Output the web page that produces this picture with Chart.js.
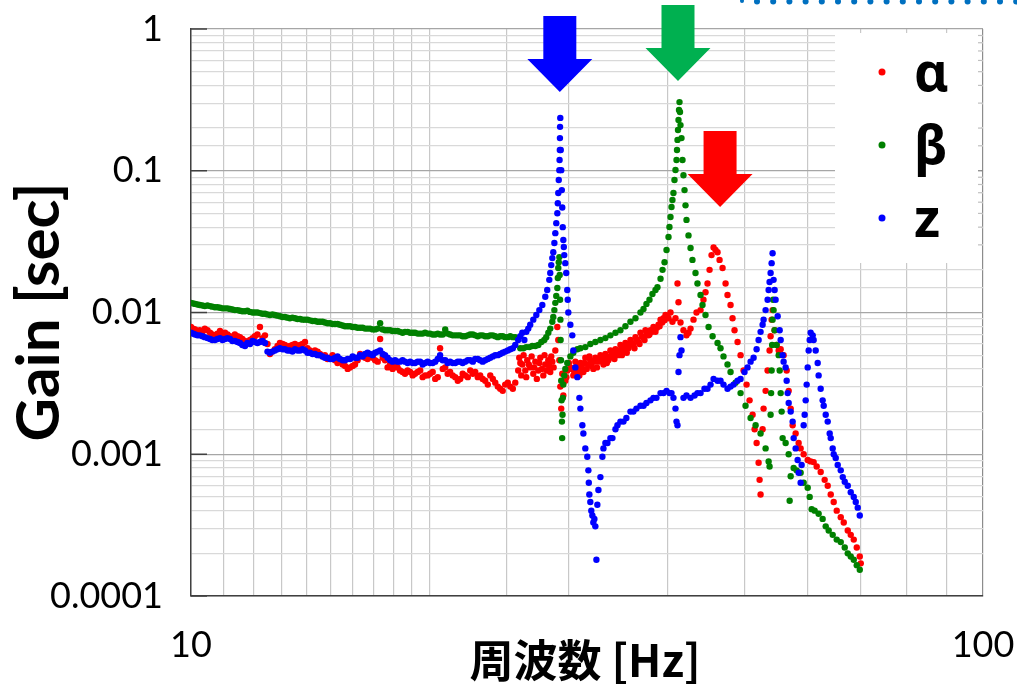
<!DOCTYPE html>
<html>
<head>
<meta charset="utf-8">
<script src="https://cdn.jsdelivr.net/npm/chart.js@4.4.1/dist/chart.umd.min.js"></script>
<style>
  html, body { margin: 0; padding: 0; background: #fff; }
  #wrap { width: 1017px; height: 684px; }
</style>
</head>
<body>
<div id="wrap"><canvas id="gainChart" width="1017" height="684"></canvas></div>
<script>
// [frequency Hz, gain sec]
const alphaPoints = [
  [10.00,0.0079],[10.12,0.0076],[10.26,0.0075],[10.41,0.0077],[10.57,0.0072],[10.72,0.0069],[10.88,0.0074],[11.04,0.0072],[11.20,0.0068],[11.36,0.0070],
  [11.53,0.0067],[11.70,0.0063],[11.87,0.0064],[12.04,0.0068],[12.22,0.0079],[12.40,0.0069],[12.58,0.0051],[12.76,0.0055],[12.95,0.0061],[13.14,0.0059],
  [13.33,0.0058],[13.53,0.0060],[13.73,0.0059],[13.93,0.0062],[14.13,0.0054],[14.34,0.0054],[14.55,0.0051],[14.76,0.0050],[14.98,0.0048],[15.20,0.0046],
  [15.42,0.0045],[15.65,0.0042],[15.88,0.0041],[16.11,0.0043],[16.35,0.0051],[16.59,0.0048],[16.83,0.0050],[17.08,0.0046],[17.33,0.0065],[17.58,0.0046],
  [17.84,0.0043],[18.10,0.0042],[18.36,0.0039],[18.63,0.0037],[18.91,0.0038],[19.18,0.0037],[19.47,0.0039],[19.75,0.0036],[20.04,0.0037],[20.34,0.0034],
  [20.63,0.0056],[20.94,0.0041],[21.24,0.0038],[21.56,0.0035],[21.87,0.0034],[22.19,0.0036],[22.52,0.0039],[22.85,0.0038],[23.18,0.0036],[23.52,0.0033],
  [23.87,0.0036],[24.22,0.0032],[24.57,0.0029],[24.93,0.0031],[25.30,0.0030],[25.67,0.0032],
  [10.06,0.0077],[10.19,0.0074],[10.34,0.0073],[10.49,0.0075],[10.64,0.0070],[10.80,0.0071],[10.96,0.0069],[11.12,0.0070],[11.28,0.0066],[11.45,0.0068],
  [11.61,0.0065],[11.78,0.0061],[11.96,0.0066],[12.13,0.0070],[12.31,0.0066],[12.49,0.0060],[12.67,0.0053],[12.86,0.0058],[13.05,0.0060],[13.24,0.0057],
  [13.43,0.0059],[13.63,0.0057],[13.83,0.0060],[14.03,0.0056],[14.24,0.0052],[14.45,0.0053],[14.66,0.0049],[14.87,0.0047],[15.09,0.0050],[15.31,0.0044],
  [15.54,0.0043],[15.77,0.0040],[16.00,0.0042],[16.23,0.0046],[16.47,0.0049],[16.71,0.0047],[16.96,0.0048],[17.21,0.0045],[17.46,0.0048],[17.71,0.0041],
  [17.97,0.0040],[18.23,0.0041],[18.50,0.0038],[18.77,0.0039],[19.05,0.0036],[19.33,0.0038],[19.61,0.0035],[19.90,0.0036],[20.19,0.0038],[20.49,0.0035],
  [20.79,0.0040],[21.09,0.0037],[21.40,0.0036],[21.72,0.0033],[22.03,0.0037],[22.36,0.0035],[22.69,0.0037],[23.02,0.0035],[23.35,0.0034],[23.70,0.0031],
  [24.05,0.0034],[24.40,0.0030],[24.75,0.0028],[25.12,0.0032],[25.49,0.0029],
  [25.89,0.0039],[26.05,0.0044],[26.20,0.0043],[26.43,0.0039],[26.58,0.0046],[26.81,0.0041],[27.05,0.0037],[27.21,0.0045],[27.45,0.0039],[27.61,0.0048],
  [27.85,0.0036],[28.01,0.0043],[28.26,0.0046],[28.42,0.0038],[28.59,0.0045],[28.84,0.0054],[29.01,0.0079],[29.09,0.0064],[29.18,0.0046],[29.26,0.0030],
  [25.97,0.0048],[26.12,0.0036],[26.30,0.0050],[26.50,0.0035],[26.70,0.0043],[26.92,0.0049],[27.12,0.0041],[27.33,0.0034],[27.53,0.0044],[27.74,0.0040],
  [27.95,0.0050],[28.14,0.0039],[28.33,0.0042],[28.50,0.0049],[28.70,0.0041],
  [29.34,0.0021],[29.43,0.0037],[29.52,0.0026],[29.69,0.0033],[29.86,0.0039],[30.13,0.0041],[30.39,0.0036],[30.57,0.0045],[30.84,0.0039],[31.02,0.0044],
  [31.29,0.0038],[31.47,0.0048],[31.75,0.0043],[31.93,0.0046],[32.21,0.0040],[32.40,0.0048],[32.69,0.0045],[32.88,0.0050],[33.17,0.0043],[33.36,0.0051],
  [33.65,0.0046],[33.85,0.0054],[34.15,0.0048],[34.35,0.0055],[34.65,0.0050],[34.85,0.0059],[35.16,0.0054],[35.36,0.0061],[35.67,0.0056],[35.88,0.0064],
  [36.19,0.0059],[36.41,0.0067],[36.73,0.0062],[36.94,0.0072],[37.27,0.0066],[37.48,0.0075],[37.81,0.0069],[38.03,0.0075],[38.36,0.0079],[38.59,0.0073],
  [29.78,0.0035],[30.00,0.0044],[30.25,0.0040],[30.48,0.0038],[30.70,0.0042],[30.93,0.0036],[31.15,0.0041],[31.38,0.0044],[31.60,0.0040],[31.84,0.0049],
  [32.05,0.0042],[32.30,0.0045],[32.55,0.0041],[32.78,0.0047],[33.02,0.0046],[33.26,0.0048],[33.50,0.0044],[33.75,0.0049],[34.00,0.0051],[34.25,0.0047],
  [34.50,0.0052],[34.75,0.0054],[35.00,0.0050],[35.26,0.0057],[35.50,0.0052],[35.77,0.0059],[36.05,0.0061],[36.30,0.0056],[36.58,0.0064],[36.84,0.0060],
  [37.10,0.0068],[37.38,0.0064],[37.65,0.0071],[37.92,0.0070],[38.20,0.0073],[38.48,0.0076],[38.75,0.0078],[39.05,0.0080],[39.35,0.0085],[39.62,0.0088],
  [39.90,0.0094],
  [38.93,0.0082],[39.16,0.0089],[39.50,0.0091],[39.73,0.0096],[40.08,0.0091],[40.31,0.0100],[40.54,0.0086],[40.90,0.0091],[41.14,0.0160],[41.26,0.0118],
  [41.50,0.0085],[41.86,0.0075],[42.23,0.0069],[42.48,0.0072],[42.73,0.0077],[43.10,0.0089],[43.48,0.0100],[43.99,0.0104],[44.37,0.0123],[44.63,0.0139],
  [44.89,0.0160],[45.16,0.0200],[45.42,0.0254],[45.69,0.0288],[45.95,0.0276],[46.22,0.0266],[46.49,0.0235],[46.90,0.0206],[47.31,0.0160],[47.58,0.0133],
  [48.00,0.0113],[48.28,0.0091],[48.56,0.0075],[48.99,0.0062],[49.42,0.0050],[49.85,0.0039],[50.29,0.0031],[50.73,0.0024],[51.18,0.0019],[51.48,0.0015],
  [51.78,0.0012],[52.08,0.00087],[52.23,0.00066],[52.38,0.00052],[52.69,0.0015],[52.84,0.0021],[53.15,0.0028],[53.46,0.0039],[53.77,0.0054],[53.93,0.0068],
  [54.09,0.0089],[54.24,0.0104],[54.56,0.0075],[54.88,0.0059],[55.21,0.0054],[55.53,0.0055],[56.01,0.0050],[56.51,0.0039],[56.84,0.0028],[57.17,0.0021],
  [57.50,0.0016],[58.00,0.0014],[58.51,0.0012],[58.85,0.0011],[59.37,0.0010],[60.07,0.00091],[60.59,0.00089],[61.12,0.00088],[61.66,0.00082],[62.38,0.00075],
  [63.11,0.00066],[63.67,0.00060],[64.23,0.00052],[64.79,0.00046],[65.36,0.00040],[66.13,0.00036],[66.71,0.00033],[67.49,0.00029],[68.08,0.00027],[68.68,0.00025],
  [69.28,0.00022],[69.89,0.00019],[70.09,0.00017]
];

const betaPoints = [
  [10.00,0.0117],[10.12,0.0115],[10.26,0.0113],[10.41,0.0111],[10.57,0.0111],[10.72,0.0109],[10.88,0.0108],[11.04,0.0107],[11.20,0.0106],[11.36,0.0104],
  [11.53,0.0103],[11.70,0.0102],[11.87,0.0101],[12.04,0.0100],[12.22,0.0099],[12.40,0.0098],[12.58,0.0096],[12.76,0.0096],[12.95,0.0094],[13.14,0.0093],
  [13.33,0.0091],[13.53,0.0091],[13.73,0.0090],[13.93,0.0089],[14.13,0.0088],[14.34,0.0087],[14.55,0.0086],[14.76,0.0085],[14.98,0.0084],[15.20,0.0083],
  [15.42,0.0082],[15.65,0.0080],[15.88,0.0080],[16.11,0.0079],[16.35,0.0078],[16.59,0.0077],[16.83,0.0077],[17.08,0.0076],[17.33,0.0084],[17.58,0.0075],
  [17.84,0.0075],[18.10,0.0074],[18.36,0.0073],[18.63,0.0073],[18.91,0.0072],[19.18,0.0072],[19.47,0.0071],[19.75,0.0072],[20.04,0.0071],[20.34,0.0070],
  [20.63,0.0070],[20.94,0.0076],[21.24,0.0070],[21.56,0.0069],[21.87,0.0069],[22.19,0.0068],[22.52,0.0070],[22.85,0.0069],[23.18,0.0069],[23.52,0.0068],
  [23.87,0.0069],[24.22,0.0068],[24.57,0.0068],[24.93,0.0067],[25.30,0.0068],[25.67,0.0067],
  [10.06,0.0116],[10.19,0.0114],[10.34,0.0112],[10.49,0.0112],[10.64,0.0110],[10.80,0.0109],[10.96,0.0107],[11.12,0.0107],[11.28,0.0105],[11.45,0.0104],
  [11.61,0.0102],[11.78,0.0103],[11.96,0.0100],[12.13,0.0100],[12.31,0.0098],[12.49,0.0097],[12.67,0.0097],[12.86,0.0095],[13.05,0.0093],[13.24,0.0092],
  [13.43,0.0092],[13.63,0.0090],[13.83,0.0089],[14.03,0.0089],[14.24,0.0087],[14.45,0.0086],[14.66,0.0086],[14.87,0.0084],[15.09,0.0083],[15.31,0.0083],
  [15.54,0.0081],[15.77,0.0080],[16.00,0.0079],[16.23,0.0078],[16.47,0.0078],[16.71,0.0077],[16.96,0.0076],[17.21,0.0077],[17.46,0.0076],[17.71,0.0075],
  [17.97,0.0074],[18.23,0.0074],[18.50,0.0072],[18.77,0.0073],[19.05,0.0072],[19.33,0.0071],[19.61,0.0071],[19.90,0.0071],[20.19,0.0070],[20.49,0.0071],
  [20.79,0.0070],[21.09,0.0071],[21.40,0.0069],[21.72,0.0069],[22.03,0.0068],[22.36,0.0069],[22.69,0.0070],[23.02,0.0068],[23.35,0.0069],[23.70,0.0068],
  [24.05,0.0069],[24.40,0.0067],[24.75,0.0068],[25.12,0.0067],[25.49,0.0067],
  [26.05,0.0056],[26.28,0.0056],[26.51,0.0057],[26.74,0.0057],[26.97,0.0058],[27.21,0.0058],[27.45,0.0059],[27.69,0.0062],[27.93,0.0064],[28.09,0.0067],
  [28.26,0.0072],[28.42,0.0077],[28.59,0.0086],[28.67,0.0093],[28.76,0.0104],[28.84,0.0117],[28.92,0.0131],[29.01,0.0149],[29.05,0.0175],[29.09,0.0206],
  [29.13,0.0226],[29.18,0.0246],[29.21,0.0184],[29.24,0.0123],[29.27,0.0089],[29.29,0.0064],[29.32,0.0046],[29.34,0.0033],[29.37,0.0024],[29.40,0.0017],
  [29.42,0.0013],[29.45,0.0019],[29.48,0.0025],[29.52,0.0031],[29.60,0.0036],[29.69,0.0040],[29.86,0.0044],[30.13,0.0049],[30.39,0.0052],[30.75,0.0055],
  [31.02,0.0056],[31.47,0.0057],[31.93,0.0060],[32.40,0.0062],[32.88,0.0064],[33.36,0.0066],[33.85,0.0069],[34.35,0.0072],[34.85,0.0075],[35.36,0.0080],
  [35.88,0.0086],[36.41,0.0091],[36.94,0.0100],[37.27,0.0106],[37.59,0.0115],[37.92,0.0123],[38.25,0.0135],[38.59,0.0144],[38.81,0.0151],[39.16,0.0173],
  [39.39,0.0200],[39.62,0.0226],[39.85,0.0276],[40.08,0.0341],[40.19,0.0401],[40.31,0.0472],[40.43,0.0555],[40.54,0.0622],[40.66,0.0696],[40.78,0.0860],
  [40.90,0.1012],[41.02,0.1191],[41.08,0.1401],[41.14,0.165],[41.20,0.194],[41.26,0.228],[41.32,0.268],[41.38,0.305],[41.44,0.26],[41.50,0.21],
  [41.62,0.17],[41.74,0.119],[41.86,0.093],[41.99,0.073],[42.11,0.057],[42.23,0.045],[42.48,0.035],[42.73,0.0285],[42.97,0.0235],[43.35,0.0190],
  [43.60,0.0160],[43.99,0.0133],[44.24,0.0113],[44.63,0.0096],[45.03,0.0079],[45.56,0.0068],[46.22,0.0061],[46.62,0.0056],[47.03,0.0049],[47.58,0.0043],
  [48.00,0.0038],[48.70,0.0032],[49.42,0.0027],[50.14,0.0022],[50.88,0.0018],[51.63,0.0016],[52.38,0.0014],[53.15,0.0011],[53.62,0.00089],[53.77,0.00082],
  [53.93,0.0019],[54.01,0.0027],[54.09,0.0039],[54.17,0.0059],[54.24,0.0089],[54.32,0.0123],[54.40,0.0104],[54.56,0.0075],[54.88,0.0059],[55.21,0.0050],
  [55.37,0.0039],[55.53,0.0027],[55.69,0.0020],[55.85,0.0013],[56.34,0.0012],[56.84,0.0010],[57.00,0.00047],[57.17,0.00070],[57.67,0.00080],[58.17,0.00077],
  [58.85,0.00074],[59.37,0.00063],[60.07,0.00058],[60.42,0.00050],[60.77,0.00041],[61.30,0.00040],[62.01,0.00038],[62.74,0.00035],[63.30,0.00031],[63.85,0.00029],
  [64.60,0.00027],[65.36,0.00025],[66.13,0.00024],[66.90,0.00022],[67.49,0.00020],[68.08,0.00019],[68.68,0.00018],[69.28,0.000165],[69.89,0.000153]
];

const zPoints = [
  [10.00,0.0072],[10.12,0.0070],[10.26,0.0069],[10.41,0.0067],[10.57,0.0065],[10.72,0.0064],[10.88,0.0066],[11.04,0.0065],[11.20,0.0065],[11.36,0.0063],
  [11.53,0.0061],[11.70,0.0058],[11.87,0.0060],[12.04,0.0062],[12.22,0.0062],[12.40,0.0061],[12.58,0.0052],[12.76,0.0054],[12.95,0.0056],[13.14,0.0055],
  [13.33,0.0054],[13.53,0.0055],[13.73,0.0054],[13.93,0.0054],[14.13,0.0052],[14.34,0.0051],[14.55,0.0050],[14.76,0.0048],[14.98,0.0047],[15.20,0.0048],
  [15.42,0.0047],[15.65,0.0046],[15.88,0.0047],[16.11,0.0048],[16.35,0.0050],[16.59,0.0051],[16.83,0.0051],[17.08,0.0052],[17.33,0.0054],[17.58,0.0050],
  [17.84,0.0046],[18.10,0.0046],[18.36,0.0045],[18.63,0.0045],[18.91,0.0045],[19.18,0.0044],[19.47,0.0045],[19.75,0.0044],[20.04,0.0044],[20.34,0.0045],
  [20.63,0.0050],[20.94,0.0046],[21.24,0.0045],[21.56,0.0044],[21.87,0.0045],[22.19,0.0045],[22.52,0.0046],[22.85,0.0047],[23.18,0.0046],[23.52,0.0046],
  [23.87,0.0048],[24.22,0.0050],[24.57,0.0051],[24.93,0.0053],[25.30,0.0055],[25.67,0.0059],
  [10.06,0.0071],[10.19,0.0069],[10.34,0.0068],[10.49,0.0066],[10.64,0.0064],[10.80,0.0065],[10.96,0.0064],[11.12,0.0066],[11.28,0.0063],[11.45,0.0062],
  [11.61,0.0059],[11.78,0.0061],[11.96,0.0063],[12.13,0.0061],[12.31,0.0063],[12.49,0.0053],[12.67,0.0053],[12.86,0.0055],[13.05,0.0055],[13.24,0.0054],
  [13.43,0.0053],[13.63,0.0054],[13.83,0.0055],[14.03,0.0052],[14.24,0.0051],[14.45,0.0050],[14.66,0.0049],[14.87,0.0048],[15.09,0.0047],[15.31,0.0049],
  [15.54,0.0046],[15.77,0.0047],[16.00,0.0049],[16.23,0.0048],[16.47,0.0049],[16.71,0.0052],[16.96,0.0050],[17.21,0.0053],[17.46,0.0051],[17.71,0.0048],
  [17.97,0.0045],[18.23,0.0045],[18.50,0.0046],[18.77,0.0044],[19.05,0.0044],[19.33,0.0045],[19.61,0.0043],[19.90,0.0045],[20.19,0.0044],[20.49,0.0047],
  [20.79,0.0046],[21.09,0.0044],[21.40,0.0044],[21.72,0.0045],[22.03,0.0044],[22.36,0.0046],[22.69,0.0045],[23.02,0.0047],[23.35,0.0045],[23.70,0.0047],
  [24.05,0.0049],[24.40,0.0050],[24.75,0.0052],[25.12,0.0054],[25.49,0.0056],
  [25.89,0.0064],[26.05,0.0068],[26.20,0.0072],[26.36,0.0064],[26.51,0.0073],[26.66,0.0077],[26.81,0.0082],[27.05,0.0089],[27.29,0.0096],[27.53,0.0104],
  [27.77,0.0113],[28.01,0.0129],[28.17,0.0144],[28.34,0.0170],[28.42,0.0190],[28.50,0.0216],[28.59,0.0242],[28.67,0.0266],[28.76,0.0309],[28.84,0.0363],
  [28.92,0.0427],[29.01,0.0502],[29.05,0.0590],[29.09,0.0696],[29.13,0.086],[29.18,0.101],[29.20,0.119],[29.22,0.140],[29.23,0.170],[29.24,0.204],
  [29.26,0.236],[29.30,0.14],[29.34,0.101],[29.39,0.073],[29.43,0.055],[29.47,0.040],[29.52,0.0325],[29.56,0.029],[29.60,0.0254],[29.69,0.0223],
  [29.77,0.0190],[29.86,0.0144],[29.90,0.0123],[29.95,0.0100],[30.13,0.0082],[30.30,0.0069],[30.39,0.0054],[30.57,0.0041],[30.75,0.0035],[30.93,0.0025],
  [31.02,0.0021],[31.20,0.0016],[31.29,0.0014],[31.47,0.0011],[31.65,0.00096],[31.75,0.00077],[31.79,0.00063],[31.84,0.00052],[31.93,0.00046],[32.02,0.00040],
  [32.12,0.00037],[32.21,0.00033],[32.31,0.00035],[32.40,0.00031],[32.50,0.00018],[32.59,0.00044],[32.69,0.00056],[32.88,0.00069],[33.07,0.00096],[33.17,0.0011],
  [33.36,0.0012],[33.56,0.0012],[33.85,0.0013],[34.05,0.0013],[34.35,0.0015],[34.55,0.0016],[34.85,0.0017],[35.16,0.0017],[35.46,0.0018],[35.88,0.0020],
  [36.19,0.0020],[36.51,0.0021],[36.94,0.0022],[37.27,0.0022],[37.59,0.0023],[38.03,0.0024],[38.36,0.0025],[38.70,0.0025],[39.16,0.0027],[39.50,0.0027],
  [39.85,0.0028],[40.19,0.0027],[40.43,0.0027],[40.66,0.0025],[40.90,0.0021],[41.02,0.0017],[41.14,0.0016],[41.26,0.0038],[41.38,0.0050],[41.50,0.0067],
  [41.62,0.0054],[41.86,0.0025],[42.23,0.0026],[42.73,0.0025],[43.23,0.0026],[43.60,0.0027],[43.99,0.0027],[44.50,0.0029],[44.89,0.0029],[45.29,0.0031],
  [45.69,0.0034],[46.22,0.0033],[46.62,0.0033],[47.03,0.0031],[47.58,0.0029],[48.00,0.0030],[48.42,0.0031],[48.99,0.0033],[49.42,0.0034],[49.99,0.0038],
  [50.43,0.0041],[50.88,0.0045],[51.33,0.0048],[51.78,0.0055],[52.08,0.0064],[52.38,0.0073],[52.69,0.0082],[52.84,0.0089],[53.15,0.0104],[53.46,0.0123],
  [53.62,0.0144],[53.77,0.0164],[53.93,0.0190],[54.09,0.0223],[54.24,0.0262],[54.40,0.0170],[54.56,0.0144],[54.72,0.0123],[55.05,0.0094],[55.37,0.0075],
  [55.53,0.0064],[55.85,0.0050],[56.01,0.0045],[56.34,0.0041],[56.51,0.0033],[56.67,0.0027],[56.84,0.0023],[57.17,0.0020],[57.50,0.0017],[57.67,0.0013],
  [58.00,0.0011],[58.34,0.00091],[58.51,0.00074],[58.85,0.00063],[59.02,0.00084],[59.37,0.0016],[59.54,0.0019],[59.72,0.0024],[59.89,0.0031],[60.07,0.0041],
  [60.24,0.0054],[60.42,0.0064],[60.59,0.0072],[60.95,0.0069],[61.12,0.0064],[61.48,0.0054],[61.84,0.0044],[62.01,0.0036],[62.38,0.0029],[62.74,0.0024],
  [62.93,0.0022],[63.30,0.0019],[63.67,0.0017],[64.04,0.0014],[64.23,0.0013],[64.60,0.0011],[64.79,0.0010],[65.17,0.00094],[65.55,0.00084],[66.13,0.00077],
  [66.52,0.00069],[66.90,0.00064],[67.49,0.00060],[68.08,0.00054],[68.68,0.00050],[69.08,0.00046],[69.48,0.00042],[69.89,0.00037]
];

const seriesNames = ['α', 'β', 'z'];
const seriesColors = ['#ff0000', '#008000', '#0000ff'];

const xTickValues = [10, 100];
const xTickLabels = ['10', '100'];
const yTickValues = [1, 0.1, 0.01, 0.001, 0.0001];
const yTickLabels = ['1', '0.1', '0.01', '0.001', '0.0001'];

// arrows point at the three resonance peaks [Hz, gain at arrow tip]
const arrowTips = [[29.22, 0.359], [41.20, 0.43], [46.56, 0.0555]];
const arrowColors = ['#0000ff', '#00b050', '#ff0000'];

function isDecade(v) {
  const l = Math.log10(v);
  return Math.abs(l - Math.round(l)) < 1e-6;
}

function tickLabel(v, vals, labels) {
  const i = vals.findIndex(t => Math.abs(Math.log10(v) - Math.log10(t)) < 1e-6);
  return i >= 0 ? labels[i] : '';
}

function toXY(points) {
  return points.map(p => ({ x: p[0], y: p[1] }));
}

const decorPlugin = {
  id: 'decor',
  beforeDatasetsDraw(chart) {
    const ctx = chart.ctx;
    const area = chart.chartArea;
    const y = chart.scales.y;
    ctx.save();
    // legend box hides the grid behind it
    ctx.fillStyle = '#ffffff';
    ctx.fillRect(835, 33, area.right - 1.5 - 835, 230);
    // small inner ticks on the right edge and at decades on the left
    y.ticks.forEach(t => {
      const py = y.getPixelForValue(t.value);
      if (py > 33 && py < 263) {
        ctx.strokeStyle = isDecade(t.value) ? '#808080' : '#c0c0c0';
        ctx.lineWidth = 1.2;
        ctx.beginPath();
        ctx.moveTo(area.right - 5, py);
        ctx.lineTo(area.right, py);
        ctx.stroke();
      }
      if (isDecade(t.value)) {
        ctx.strokeStyle = '#404040';
        ctx.lineWidth = 1.5;
        ctx.beginPath();
        ctx.moveTo(area.left, py);
        ctx.lineTo(area.left + 16, py);
        ctx.stroke();
      }
    });
    ctx.restore();
  },
  afterDraw(chart) {
    const ctx = chart.ctx;
    const xs = chart.scales.x;
    const ys = chart.scales.y;
    ctx.save();

    // dotted frame edge at the top right
    ctx.fillStyle = '#0070c0';
    ctx.beginPath();
    ctx.arc(742, 1, 2, 0, Math.PI * 2);
    ctx.fill();
    for (let px = 757; px < 1025; px += 16.2) {
      ctx.beginPath();
      ctx.arc(px, 1.5, 3, 0, Math.PI * 2);
      ctx.fill();
    }

    // arrows
    arrowTips.forEach((tip, i) => {
      const tx = xs.getPixelForValue(tip[0]);
      const ty = ys.getPixelForValue(tip[1]);
      ctx.fillStyle = arrowColors[i];
      ctx.beginPath();
      ctx.moveTo(tx, ty);
      ctx.lineTo(tx - 32.5, ty - 33);
      ctx.lineTo(tx - 16.5, ty - 33);
      ctx.lineTo(tx - 16.5, ty - 76);
      ctx.lineTo(tx + 16.5, ty - 76);
      ctx.lineTo(tx + 16.5, ty - 33);
      ctx.lineTo(tx + 32.5, ty - 33);
      ctx.closePath();
      ctx.fill();
    });

    // legend
    ctx.textAlign = 'left';
    ctx.textBaseline = 'alphabetic';
    ctx.font = 'bold 53px "Noto Sans", "DejaVu Sans", sans-serif';
    seriesNames.forEach((name, i) => {
      const cy = 72 + i * 73;
      ctx.fillStyle = seriesColors[i];
      ctx.beginPath();
      ctx.arc(882, cy, 3.5, 0, Math.PI * 2);
      ctx.fill();
      ctx.fillStyle = '#000000';
      ctx.fillText(name, 914, cy + 19);
    });

    // axis titles
    ctx.fillStyle = '#000000';
    ctx.textAlign = 'center';
    ctx.textBaseline = 'middle';
    ctx.font = 'bold 44px "Noto Sans CJK JP", sans-serif';
    ctx.fillText('周波数 [Hz]', 585, 660);
    ctx.translate(40, 312);
    ctx.rotate(-Math.PI / 2);
    ctx.font = 'bold 60px Lato, "Open Sans", sans-serif';
    ctx.fillText('Gain [sec]', 0, 0);
    ctx.restore();
  }
};

new Chart(document.getElementById('gainChart'), {
  type: 'scatter',
  data: {
    datasets: [
      { label: seriesNames[0], data: toXY(alphaPoints), backgroundColor: seriesColors[0], order: 3 },
      { label: seriesNames[1], data: toXY(betaPoints), backgroundColor: seriesColors[1], order: 2 },
      { label: seriesNames[2], data: toXY(zPoints), backgroundColor: seriesColors[2], order: 1 }
    ]
  },
  options: {
    responsive: false,
    animation: false,
    events: [],
    elements: { point: { radius: 3.2, borderWidth: 0, hoverRadius: 3.2 } },
    layout: { padding: { top: 29, right: 34, left: 0, bottom: 0 } },
    plugins: { legend: { display: false }, tooltip: { enabled: false } },
    scales: {
      x: {
        type: 'logarithmic',
        min: 10,
        max: 100,
        afterFit: s => { s.height = 88; s.paddingLeft = 0; s.paddingRight = 0; },
        grid: {
          drawTicks: false,
          lineWidth: 1.2,
          color: c => (c.tick && c.tick.value === 100) ? '#8c8c8c' : '#c8c8c8'
        },
        border: { color: '#404040', width: 1.5 },
        ticks: {
          autoSkip: false,
          maxRotation: 0,
          padding: 28,
          color: '#000000',
          font: { family: 'Lato', size: 36 },
          callback: v => tickLabel(v, xTickValues, xTickLabels)
        }
      },
      y: {
        type: 'logarithmic',
        min: 0.0001,
        max: 1,
        afterFit: s => { s.width = 191; s.paddingTop = 0; s.paddingBottom = 0; },
        grid: {
          drawTicks: false,
          lineWidth: 1.2,
          color: c => (c.tick && isDecade(c.tick.value)) ? '#a6a6a6' : '#d9d9d9'
        },
        border: { color: '#404040', width: 1.5 },
        ticks: {
          autoSkip: false,
          padding: 28,
          color: '#000000',
          font: { family: 'Lato', size: 36 },
          callback: v => tickLabel(v, yTickValues, yTickLabels)
        }
      }
    }
  },
  plugins: [decorPlugin]
});
</script>
</body>
</html>
